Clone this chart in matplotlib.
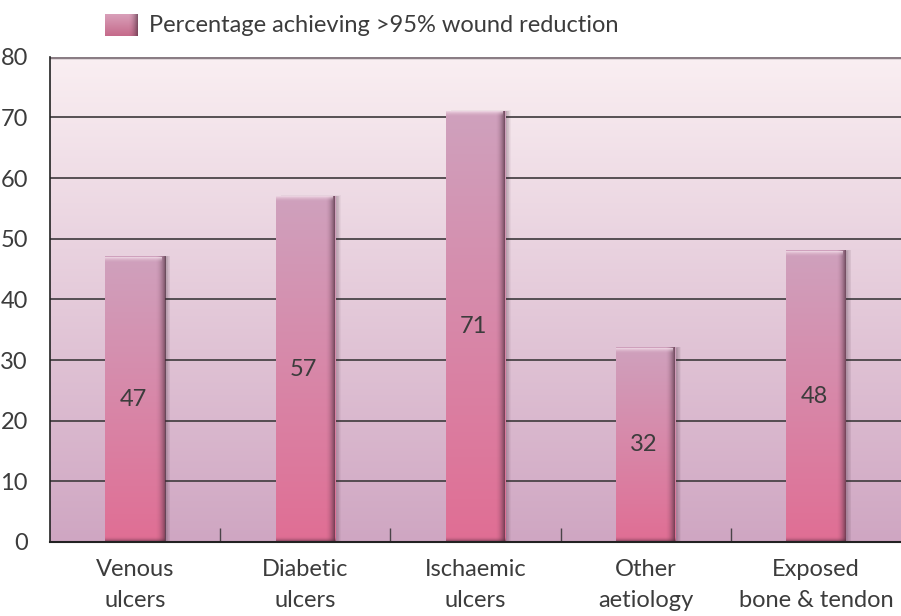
import matplotlib.pyplot as plt
import numpy as np
from matplotlib.patches import Rectangle
from matplotlib.colors import to_rgb

categories = ["Venous\nulcers", "Diabetic\nulcers", "Ischaemic\nulcers",
              "Other\naetiology", "Exposed\nbone & tendon"]
values = [47, 57, 71, 32, 48]
yticks = [0, 10, 20, 30, 40, 50, 60, 70, 80]
legend_label = "Percentage achieving >95% wound reduction"

plt.rcParams['font.family'] = ['Lato', 'DejaVu Sans']

fig = plt.figure(figsize=(9.01, 6.16), dpi=100)
ax = fig.add_axes([50 / 901, 1 - 542 / 616, 851 / 901, (542 - 56.7) / 616])
ax.set_xlim(0, 5)
ax.set_ylim(0, 80)

# pixel sizes in data units
px_x = 5 / 851
px_y = 80 / (542 - 56.7)


def vgrad(top, bottom, n=256):
    t = np.linspace(0, 1, n)[:, None]
    a = np.array(to_rgb(top))
    b = np.array(to_rgb(bottom))
    return (a * (1 - t) + b * t)[:, None, :].repeat(2, axis=1)


def fade(color, n, amax, horizontal=True):
    arr = np.zeros((2, n, 4)) if horizontal else np.zeros((n, 2, 4))
    arr[..., :3] = to_rgb(color)
    ramp = np.linspace(0, amax, n) ** 2
    arr[..., 3] = ramp if horizontal else ramp[:, None]
    return arr


# background gradient
ax.imshow(vgrad('#faeff2', '#cfa6c2'), extent=[0, 5, 0, 80], aspect='auto',
          zorder=0, interpolation='bilinear')

for y in yticks[1:-1]:
    ax.axhline(y, color='#4a4448', lw=1.3, zorder=1)
ax.axhline(80, color='#8a7d84', lw=2.5, zorder=1)

x = np.arange(len(values)) + 0.5
bars = ax.bar(x, values, width=0.35, color='none', zorder=2)

for b, v in zip(bars, values):
    bx, bw, bh = b.get_x(), b.get_width(), b.get_height()
    # soft outer shadow
    for k in range(1, 9):
        ax.add_patch(Rectangle((bx + k * 0.7 * px_x, -k * px_y * 0.3), bw, bh + 0.4 * k * px_y,
                               color='#3a2030', alpha=0.045, lw=0, zorder=2))
    ax.imshow(vgrad('#cfa1bd', '#e06e94'), extent=[bx, bx + bw, 0, bh],
              aspect='auto', zorder=3, interpolation='bilinear')
    # right edge darkening
    ax.imshow(fade('#4a2a3a', 32, 0.85), extent=[bx + bw - 10 * px_x, bx + bw, 0, bh],
              aspect='auto', zorder=4, interpolation='bilinear')
    # bottom darkening
    ax.imshow(fade('#4a2a3a', 32, 0.85, horizontal=False), extent=[bx, bx + bw, 0, 6 * px_y],
              aspect='auto', zorder=4, interpolation='bilinear')
    # top highlight
    ax.imshow(fade('#f2dce8', 16, 0.95, horizontal=False)[::-1],
              extent=[bx, bx + bw - 3 * px_x, bh - 6 * px_y, bh],
              aspect='auto', zorder=5, interpolation='bilinear')
    ax.text(bx + bw / 2 - 2 * px_x, bh / 2, str(v), ha='center', va='center',
            fontsize=17, color='#3c3c3c', zorder=6)

ax.set_yticks(yticks)
ax.set_yticklabels([str(t) for t in yticks], fontsize=17, color='#3c3c3c')
ax.tick_params(axis='y', length=0, pad=16)
ax.set_xticks(x)
ax.set_xticklabels(categories, fontsize=17, color='#3c3c3c', linespacing=1.6)
ax.tick_params(axis='x', length=0, pad=12)
ax.set_xticks(np.arange(1, 5), minor=True)
ax.tick_params(axis='x', which='minor', direction='in', length=10, width=1, color='#4a4448')

for s in ['top', 'right']:
    ax.spines[s].set_visible(False)
ax.spines['left'].set_color('#222222')
ax.spines['left'].set_linewidth(1.2)
ax.spines['left'].set_zorder(7)
ax.spines['bottom'].set_color('#222222')
ax.spines['bottom'].set_linewidth(1.5)
ax.spines['bottom'].set_zorder(7)

# legend
lax = fig.add_axes([105 / 901, 1 - 36 / 616, 33 / 901, 22 / 616])
lax.imshow(vgrad('#d9a0ba', '#c56a8a'), extent=[0, 1, 0, 1], aspect='auto',
           interpolation='bilinear')
lax.imshow(fade('#4a2a3a', 32, 0.8), extent=[0.7, 1, 0, 1], aspect='auto',
           interpolation='bilinear')
lax.set_xlim(0, 1)
lax.set_ylim(0, 1)
lax.axis('off')
fig.text(149 / 901, 1 - 25 / 616, legend_label, fontsize=17, color='#3c3c3c',
         va='center', ha='left')

fig.savefig('out.png', dpi=100)
